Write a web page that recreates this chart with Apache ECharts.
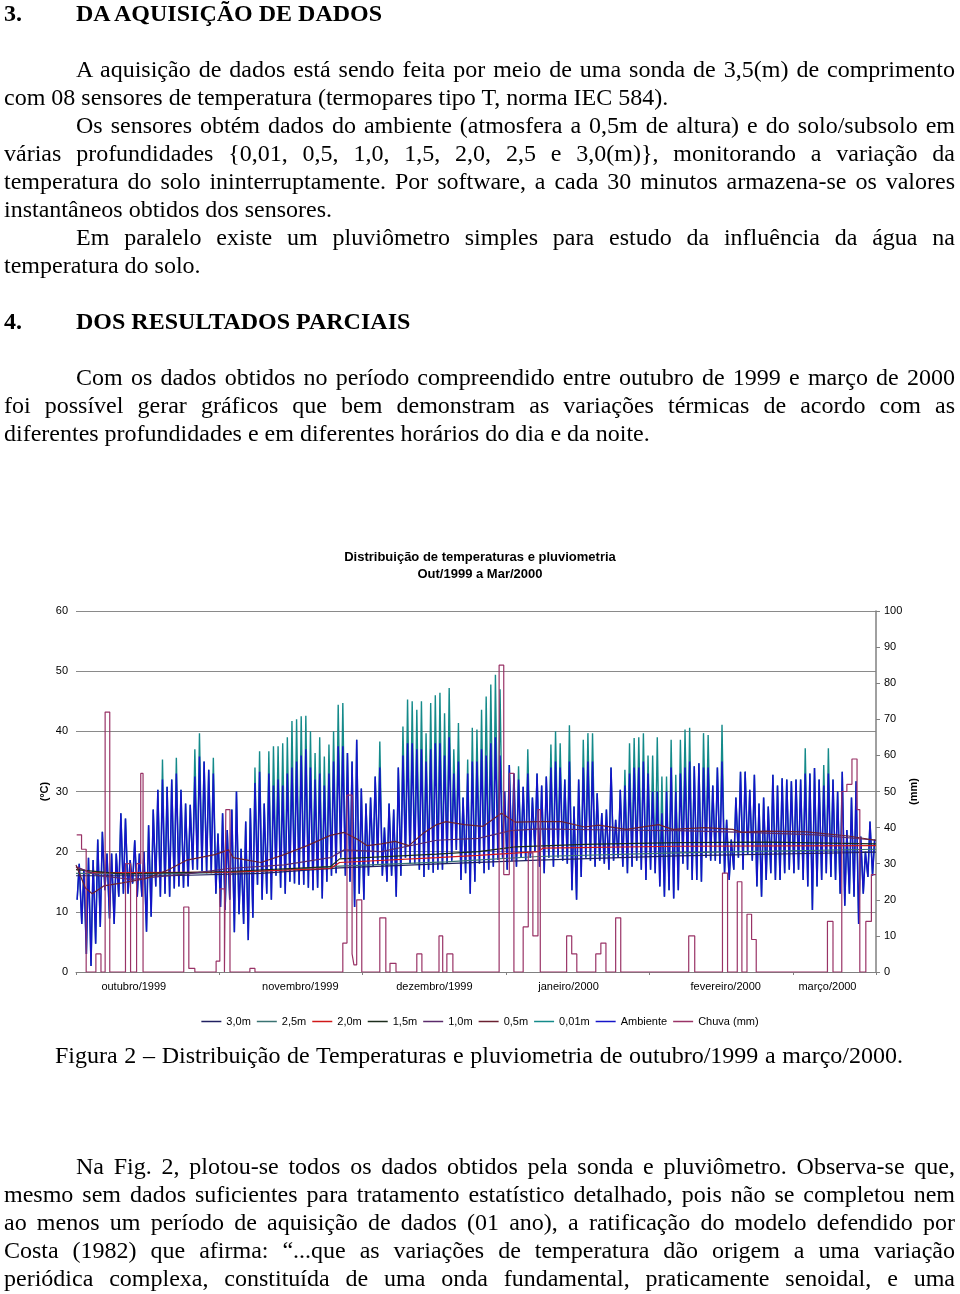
<!DOCTYPE html>
<html>
<head>
<meta charset="utf-8">
<script src="https://cdn.jsdelivr.net/npm/echarts@6/dist/echarts.min.js"></script>
<style>
html,body{margin:0;padding:0;background:#fff;}
#page{position:relative;width:960px;height:1294px;overflow:hidden;background:#fff;}
#chart{position:absolute;left:0;top:0;width:960px;height:1294px;}
.ln{position:absolute;font-family:'Liberation Serif','Times New Roman',serif;font-size:24px;line-height:28px;color:#000;white-space:nowrap;}
.b{font-weight:bold;}
</style>
</head>
<body>
<div id="page"><div id="chart"></div></div>
<script>
// ---------- data ----------
const monthLabels = ['outubro/1999','novembro/1999','dezembro/1999','janeiro/2000','fevereiro/2000','março/2000'];
const monthLabelDay = [12, 48, 77, 106, 140, 162];
const dayCount = 173;

// Ambient (air) daily maxima and minima, ºC, day 0 = 1 Oct 1999
const ambMax = [18,17,19,18.6,22,23.3,19.7,19.7,19.7,26.4, 25.5,18.6,21.9,19.7,20,24.4,27,30.3,32,30.8,
 32,33,30.3,28,27.8,32.5,35.8,35,33.6,33, 23,26.4,23.6,27,30,20.5,25,27.2,31.4,33.3, 28,33,
 31,32,31,33,34,35,36,37,34,32, 33,31,33,35,37.5,37.5,36.4,35,38.6,30.5, 28,29,32.5,34,24,28,27,34,36,38,
 38,37,37,35,37,38,38,36,39,33, 35,29,33,35,35,37,
 36,38,39,36,30,34.4,33,32,30.8,33, 29,33,31,32.5,34,35,34,32,35,27.5, 32,34,35,35,29.7,26.4,27,34,25.3,30.3,
 31,33,34,34,35,33,30,30,26.4,30, 34,
 30,33,34,35,34.2,34.7,34,34,31,34, 35,25.3,22,29,33.3,33.3,30.3,32.8,28,29, 27.5,32.8,31,32.2,32,31.7,32,32,33,33,
 33.9,32,31,33,32,30,33.3,23.6,29,31.7, 22.5,20,25,22];
const ambMin = [12,8,3,1,4.7,7.5,13.6,8.9,8,12.5, 13,13,14.7,12.5,12.5,6.7,9.2,14.2,12.5,13,
 12.5,13.9,14.2,14,14.2,17,17,16.8,16.4,16.4, 13,10.8,10.3,12,6.6,9.6,8,5.3,9,14.5, 12,13,
 12,16,14,13,15,14.7,14.5,14.5,14,13.6, 14,12.2,15,16,16.4,19,16,15,10.8,13, 12,16,17.5,18,16,15,16,12.5,16,19,
 18,18,17,15.8,17,16.5,17,17,18,18.5, 20.3,15.3,16.4,13,15,18,
 16.4,17,17.5,18.6,19,17,18.5,17.5,19,18.6, 19,20,17.5,16.4,19,17.5,19,18.5,18,13.6, 12,15.8,19,18.5,17.5,18.5,18,17,18.5,19,
 17.5,16.4,17.5,18.5,17,15.3,17,16.4,14.2,12.5, 13.6,
 12.2,13.6,18,17,15.3,15.3,15,19,18.5,18.5, 18,16.4,15.3,17,19,17,19.5,18.5,14.2,12.5, 15.3,16.4,15.3,15.3,16.4,17,16.4,17,15.3,14.2,
 10.3,14.2,15.3,16.4,15.8,15.3,13,11,13,12.5, 8,13,15.8,16];
// 0,01m sensor daily maxima (its minima coincide with the air minima in the picture)
const soilMax = [18,17,19,18.6,22,23.3,19.7,19.7,19.7,26.4, 25.5,18.6,21.9,19.7,20,24.4,27,30.3,35.3,30.8,
 32,35.6,30.3,28,27.8,37,39.7,35,33.6,35.6, 23,26.4,23.6,27,30,20.5,25,27.2,34,36.7, 28,36.7,
 37.5,37.5,38,39,41.7,42,42.5,42.6,40,36.4, 39,35.8,37.8,40,44.4,44.7,36.4,35,38.6,30.5, 28,29,32.5,38.3,24,28,27,34,40.8,45.3,
 45,43.6,45,39.7,44.7,46,46.4,43,47.2,37, 41.4,29,35.3,40.6,40.3,43.6,
 45.8,47.8,49.4,47,30,34.4,33,34.2,30.8,37, 29,33,31,32.5,37.8,40,38,32,41,27.5, 32,38.6,39.7,39.7,29.7,26.4,27,34,25.3,30.3,
 33.6,38,38.9,39,39.7,36,36,39,32.5,32.5, 38.6,
 32.8,38.6,40.3,40.6,34.2,34.7,39.7,39.4,31,34, 41.1,25.3,22,29,33.3,33.3,30.3,32.8,28,29, 27.5,32.8,31,32.2,32,31.7,32,32,37.2,33,
 33.9,32,34.4,37.2,32,30,33.3,23.6,29,31.7, 22.5,20,25,22];

// deep sensors [day, ºC]
const t05 = [[0,17.8],[2,14],[3.5,13],[6,14.3],[10,14.8],[15,15.5],[20,17],[24,18.6],[30,19.5],[33,20.3],[34,19],[37,18.6],[40,18.2],[45,19.5],[50,21],[55,22.7],[58,23.2],[61,22],[63,21],[66,21.3],[69,21.7],[72,21],[75,23],[78,24.5],[80,25],[84,24.5],[88,24.2],[92,26.4],[95,24.9],[100,25],[105,25],[110,24.1],[113,24.4],[119,23.7],[126,24.5],[129,23.7],[136,24],[142,23.7],[144,23.2],[149,23.4],[158,23.3],[167,22.6],[173,21.9]];
const t10 = [[0,17.5],[5,16],[12,15.4],[25,16.4],[33,17.2],[45,17.8],[55,19],[58,20.3],[66,20],[78,21.9],[87,22.2],[94,23.5],[100,23.8],[115,23.6],[130,23.5],[145,23.2],[160,22.8],[173,21.9]];
const t15 = [[0,17],[10,16.3],[33,16.7],[55,17.5],[57,18.8],[78,19.6],[87,20],[95,20.8],[110,21.2],[130,21.5],[150,21.6],[173,21.3]];
const t20 = [[0,17.5],[3,16.5],[33,16.6],[55,17.2],[57,18.2],[78,19],[87,19.4],[100,20],[101,20.6],[130,20.9],[173,21]];
const t25 = [[0,16.4],[20,16.3],[40,16.7],[57,17.6],[80,18.3],[100,19.2],[130,19.8],[173,20.4]];
const t30 = [[0,16],[20,16],[40,16.4],[57,17.3],[80,18],[100,18.6],[130,19.3],[173,19.9]];

// rain (mm), step change points [day, mm]
const rain = [[0.15,38],[1.2,34],[2.2,0],[4.3,5],[5.4,0],[6.3,72],[7.3,0],[10.7,30],[11.8,0],[13.1,30],[14.0,55],[14.5,0],
 [23.3,18],[24.4,1],[25.7,0],[30.3,3],[31.1,23],[32.1,0],[32.4,45],[33.3,0],[37.6,1],[38.7,0],
 [57.7,8],[58.6,49],[59.7,5],[60.1,2],[60.7,20],[61.8,0],[65.7,15],[67,0],[67.9,2.4],[69.2,0],[73.7,5],[74.8,0],
 [78.5,10],[79.3,0],[80.2,5],[81.5,0],
 [91.5,85],[92.5,27],[93.7,55],[94.7,0],[96.7,12.5],[97.8,33],[98.8,10],[99.9,45],[100.4,0],
 [106.1,10],[107.2,5],[108.3,0],[112.4,5],[113.5,8],[114.6,0],[116.7,15],[117.8,0],
 [132.5,10],[133.8,0],[139.8,27.4],[140.9,0],[143.0,25],[144.0,0],[145.1,16],[146.1,9],[147.1,0],
 [162.5,14],[163.7,0],[165.6,50],[166.7,52],[167.8,59],[168.9,45],[169.5,0],[170.8,14],[172,27],[173,27]];

const seriesNames = ['3,0m','2,5m','2,0m','1,5m','1,0m','0,5m','0,01m','Ambiente','Chuva (mm)'];
const seriesColors = ['#202060','#3a7272','#d01818','#1c2c1c','#5a2a6a','#6a2030','#148a8a','#1414c8','#993366'];

// ---------- text ----------
const textLines = [
 {x:4, y:14, t:'3.', b:1},
 {x:76, y:14, t:'DA AQUISIÇÃO DE DADOS', b:1},
 {x:76, y:70, t:'A aquisição de dados está sendo feita por meio de uma sonda de 3,5(m) de comprimento', j:955},
 {x:4, y:98, t:'com 08 sensores de temperatura (termopares tipo T, norma IEC 584).'},
 {x:76, y:126, t:'Os sensores obtém dados do ambiente (atmosfera a 0,5m de altura) e do solo/subsolo em', j:955},
 {x:4, y:154, t:'várias profundidades {0,01, 0,5, 1,0, 1,5, 2,0, 2,5 e 3,0(m)}, monitorando a variação da', j:955},
 {x:4, y:182, t:'temperatura do solo ininterruptamente.  Por software, a cada 30 minutos armazena-se os valores', j:955},
 {x:4, y:210, t:'instantâneos obtidos dos sensores.'},
 {x:76, y:238, t:'Em paralelo existe um pluviômetro simples para estudo da influência da água na', j:955},
 {x:4, y:266, t:'temperatura do solo.'},
 {x:4, y:322, t:'4.', b:1},
 {x:76, y:322, t:'DOS RESULTADOS PARCIAIS', b:1},
 {x:76, y:378, t:'Com os dados obtidos no período compreendido entre outubro de 1999 e março de 2000', j:955},
 {x:4, y:406, t:'foi possível gerar gráficos que bem demonstram as variações térmicas de acordo com as', j:955},
 {x:4, y:434, t:'diferentes profundidades e em diferentes horários do dia e da noite.'},
 {x:55, y:1056, t:'Figura 2 – Distribuição de Temperaturas e pluviometria de outubro/1999 a março/2000.', j:903},
 {x:76, y:1167, t:'Na Fig. 2, plotou-se todos os dados obtidos pela sonda e pluviômetro.  Observa-se que,', j:955},
 {x:4, y:1195, t:'mesmo sem dados suficientes para tratamento estatístico detalhado, pois não se completou nem', j:955},
 {x:4, y:1223, t:'ao menos um período de aquisição de dados (01 ano), a ratificação do modelo defendido por', j:955},
 {x:4, y:1251, t:'Costa (1982) que afirma:  “...que as variações de temperatura dão origem a uma variação', j:955},
 {x:4, y:1279, t:'periódica complexa, constituída de uma onda fundamental, praticamente senoidal, e uma', j:955}
];
const page = document.getElementById('page');
textLines.forEach(function(l){
  const d = document.createElement('div');
  d.className = 'ln' + (l.b ? ' b' : '');
  d.textContent = l.t.replace(/\s+/g,' ');
  d.style.left = l.x + 'px';
  d.style.top = (l.y - 15) + 'px';
  page.appendChild(d);
  if (l.j) {
    const w = d.getBoundingClientRect().width;
    const gaps = (d.textContent.match(/ /g) || []).length;
    if (gaps > 0) d.style.wordSpacing = ((l.j - l.x - w) / gaps) + 'px';
  }
});

// ---------- chart ----------
const FONT = "'Liberation Sans', Arial, sans-serif";
const ambData = [], tealData = [];
for (let d = 0; d < ambMax.length; d++) {
  ambData.push([d + 0.25, ambMin[d]], [d + 0.7, ambMax[d]]);
  tealData.push([d + 0.25, ambMin[d]], [d + 0.7, soilMax[d]]);
}
const cats = [];
for (let i = 0; i < dayCount; i++) {
  const k = monthLabelDay.indexOf(i);
  cats.push(k >= 0 ? monthLabels[k] : '');
}
function lineSeries(idx, data, z, w) {
  return {name: seriesNames[idx], type:'line', data:data, symbol:'none', showSymbol:false,
    lineStyle:{color:seriesColors[idx], width:w}, itemStyle:{color:seriesColors[idx]}, z:z, animation:false};
}
const series = [
  lineSeries(6, tealData, 2, 1.4),
  lineSeries(7, ambData, 3, 1.5),
  lineSeries(0, t30, 4, 1.2),
  lineSeries(1, t25, 4, 1.2),
  lineSeries(2, t20, 4, 1.2),
  lineSeries(3, t15, 4, 1.2),
  lineSeries(4, t10, 4, 1.2),
  lineSeries(5, t05, 4, 1.2),
  Object.assign(lineSeries(8, rain, 5, 1.2), {step:'end', yAxisIndex:1})
];
const chart = echarts.init(document.getElementById('chart'), null, {renderer:'canvas'});
chart.setOption({
  animation:false,
  backgroundColor:'transparent',
  title:{text:'Distribuição de temperaturas e pluviometria\nOut/1999 a Mar/2000', left:'center', top:544,
    textStyle:{fontFamily:FONT, fontSize:13, fontWeight:'bold', color:'#000', lineHeight:17}},
  legend:{top:1011, left:'center', data:seriesNames, icon:'rect', itemWidth:20, itemHeight:1.5, itemGap:6,
    textStyle:{fontFamily:FONT, fontSize:11, color:'#000'}},
  grid:{left:76, right:84, top:611, bottom:322, outerBoundsMode:'none', containLabel:false},
  xAxis:[
    {type:'value', min:0, max:dayCount, interval:31,
      axisLine:{show:true, onZero:false, lineStyle:{color:'#808080', width:1}},
      axisTick:{show:true, length:3, lineStyle:{color:'#808080'}},
      axisLabel:{show:false}, splitLine:{show:false}},
    {type:'category', position:'bottom', data:cats, boundaryGap:true,
      axisLine:{show:false}, axisTick:{show:false}, splitLine:{show:false},
      axisLabel:{interval:0, margin:9, fontFamily:FONT, fontSize:11, color:'#000'}}
  ],
  yAxis:[
    {type:'value', min:0, max:60, interval:10,
      axisLine:{show:false}, axisTick:{show:false},
      axisLabel:{margin:8, fontFamily:FONT, fontSize:11, color:'#000'},
      splitLine:{show:true, lineStyle:{color:'#8a8a8a', width:1}},
      name:'(ºC)', nameLocation:'middle', nameRotate:90, nameGap:26, nameMoveOverlap:false,
      nameTextStyle:{fontFamily:FONT, fontSize:11, fontWeight:'bold', color:'#000'}},
    {type:'value', min:0, max:100, interval:10, position:'right',
      axisLine:{show:true, lineStyle:{color:'#808080', width:1.5}},
      axisTick:{show:true, inside:false, length:4, lineStyle:{color:'#808080'}},
      axisLabel:{margin:8, fontFamily:FONT, fontSize:11, color:'#000'},
      splitLine:{show:false},
      name:'(mm)', nameLocation:'middle', nameRotate:90, nameGap:32, nameMoveOverlap:false,
      nameTextStyle:{fontFamily:FONT, fontSize:11, fontWeight:'bold', color:'#000'}}
  ],
  series:series
});
</script>
</body>
</html>
